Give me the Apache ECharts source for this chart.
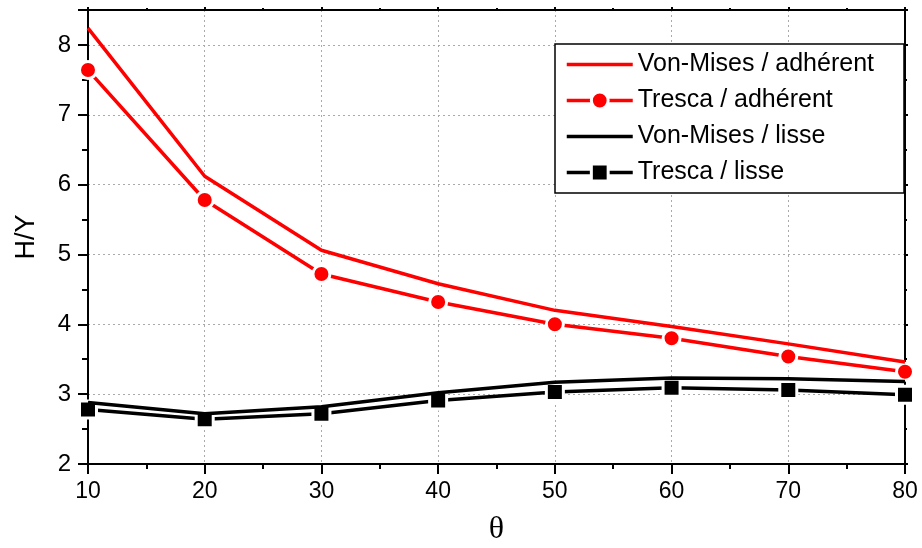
<!DOCTYPE html>
<html>
<head>
<meta charset="utf-8">
<script src="https://cdn.jsdelivr.net/npm/echarts@6/dist/echarts.min.js"></script>
<style>html,body{margin:0;padding:0;background:#fff}#c{width:922px;height:548px}</style>
</head>
<body>
<div id="c"></div>
<script>
var theta = [10, 20, 30, 40, 50, 60, 70, 80];
var vonMisesAdherent = [8.24, 6.12, 5.06, 4.58, 4.20, 3.97, 3.72, 3.46];
var trescaAdherent   = [7.64, 5.78, 4.72, 4.32, 4.00, 3.80, 3.54, 3.32];
var vonMisesLisse    = [2.88, 2.72, 2.82, 3.02, 3.17, 3.23, 3.22, 3.18];
var trescaLisse      = [2.78, 2.64, 2.72, 2.91, 3.03, 3.09, 3.06, 2.99];
var seriesNames = ['Von-Mises / adhérent', 'Tresca / adhérent', 'Von-Mises / lisse', 'Tresca / lisse'];

function pairs(ys) { return theta.map(function (x, i) { return [x, ys[i]]; }); }

var FONT = 'Liberation Sans, Arial, sans-serif';
var chart = echarts.init(document.getElementById('c'), null, { renderer: 'canvas' });

function xAx(pos, show) {
  return {
    type: 'value', position: pos, min: 10, max: 80, interval: 10,
    axisLine: { show: true, onZero: false, lineStyle: { color: '#000', width: 2 } },
    axisTick: { show: true, inside: false, length: show ? 10 : 3, lineStyle: { color: '#000', width: 2 } },
    minorTick: { show: true, splitNumber: 2, length: show ? 5 : 2, lineStyle: { color: '#000', width: 2 } },
    axisLabel: { show: show, color: '#000', fontSize: 23, fontFamily: FONT, margin: 16 },
    splitLine: { show: show, lineStyle: { color: '#aaa', type: [2, 3], width: 1 } },
    name: show ? 'θ' : '', nameLocation: 'middle', nameGap: 50,
    nameTextStyle: { color: '#000', fontSize: 32, fontFamily: 'Liberation Serif, Times New Roman, serif' }
  };
}
function yAx(pos, show) {
  return {
    type: 'value', position: pos, min: 2, max: 8.5, interval: 1,
    axisLine: { show: true, onZero: false, lineStyle: { color: '#000', width: 2 } },
    axisTick: { show: true, inside: false, length: show ? 10 : 3, lineStyle: { color: '#000', width: 2 } },
    minorTick: { show: true, splitNumber: 2, length: show ? 6 : 2, lineStyle: { color: '#000', width: 2 } },
    axisLabel: { show: show, color: '#000', fontSize: 24, fontFamily: FONT, margin: 17, showMaxLabel: false },
    splitLine: { show: show, lineStyle: { color: '#aaa', type: [2, 3], width: 1 } },
    name: show ? 'H/Y' : '', nameLocation: 'middle', nameGap: 48, nameRotate: 90,
    nameTextStyle: { color: '#000', fontSize: 27, fontFamily: FONT }
  };
}

function lineSeries(name, ys, color, symbol, z) {
  var plain = symbol === 'none';
  return {
    name: name, type: 'line', data: pairs(ys), xAxisIndex: 0, yAxisIndex: 0,
    z: z, animation: false,
    lineStyle: { color: color, width: 3.5 },
    itemStyle: { color: color, borderColor: plain ? color : '#fff', borderWidth: plain ? 0 : 3 },
    symbol: symbol, symbolSize: 17, showSymbol: !plain
  };
}

chart.setOption({
  backgroundColor: '#fff',
  animation: false,
  grid: { left: 88, right: 17, top: 10, bottom: 84, containLabel: false, outerBoundsMode: 'none' },
  xAxis: [xAx('bottom', true), xAx('top', false)],
  yAxis: [yAx('left', true), yAx('right', false)],
  legend: {
    orient: 'vertical', left: 555, top: 44,
    data: [
      { name: seriesNames[0], itemStyle: { opacity: 0 } },
      { name: seriesNames[1] },
      { name: seriesNames[2], itemStyle: { opacity: 0 } },
      { name: seriesNames[3] }
    ],
    itemWidth: 66, itemHeight: 21, itemGap: 11,
    padding: [8, 30, 8, 10],
    lineStyle: { width: 3.5 },
    itemStyle: { borderWidth: 3, borderColor: '#fff' },
    borderColor: '#000', borderWidth: 1.5, backgroundColor: '#fff',
    textStyle: { color: '#000', fontSize: 25, fontFamily: FONT }
  },
  series: [
    lineSeries(seriesNames[0], vonMisesAdherent, '#ff0000', 'none', 3),
    lineSeries(seriesNames[1], trescaAdherent, '#ff0000', 'circle', 2),
    lineSeries(seriesNames[2], vonMisesLisse, '#000000', 'none', 3),
    lineSeries(seriesNames[3], trescaLisse, '#000000', 'rect', 2)
  ]
});
</script>
</body>
</html>
